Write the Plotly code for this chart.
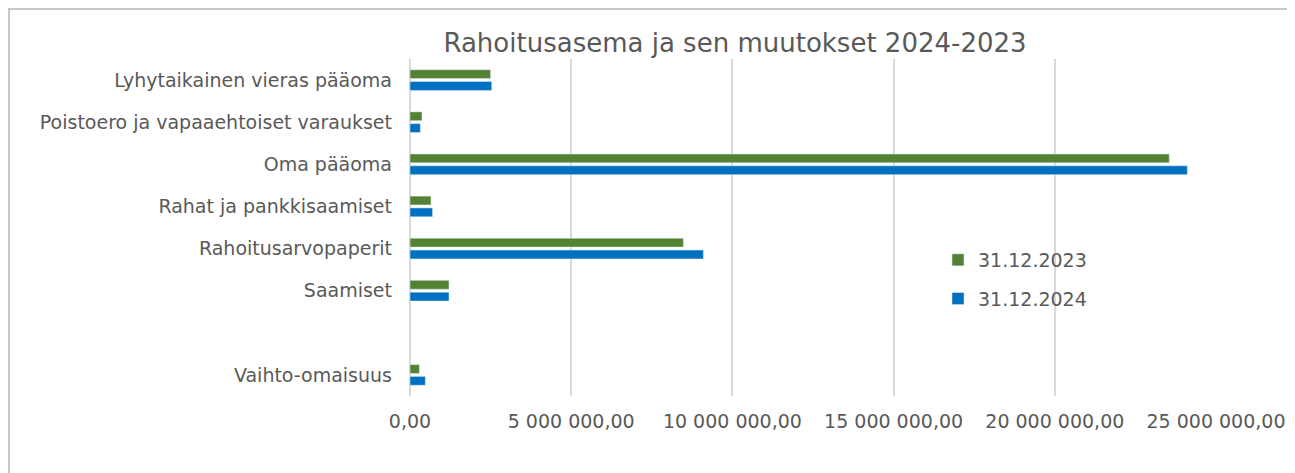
import plotly.graph_objects as go

categories = [
    "Vaihto-omaisuus",
    " ",
    "Saamiset",
    "Rahoitusarvopaperit",
    "Rahat ja pankkisaamiset",
    "Oma pääoma",
    "Poistoero ja vapaaehtoiset varaukset",
    "Lyhytaikainen vieras pääoma",
]
values_2023 = [290000, None, 1210000, 8480000, 650000, 23550000, 372000, 2500000]
values_2024 = [475000, None, 1210000, 9100000, 700000, 24110000, 320000, 2535000]
x_ticks = [0, 5000000, 10000000, 15000000, 20000000, 25000000]

GREEN = "#548235"
BLUE = "#0070C0"
TXT = "#595959"
FONT = "DejaVu Sans, Arial, sans-serif"

# page body has an 8px margin: work in screen pixels and subtract it
OFF = 8
W, H = 1295 - OFF, 473 - OFF
PL, PR, PT, PB = 410, 1216, 59, 396          # plot area in screen px
ML, MR, MT, MB = PL - OFF, W - (PR - OFF), PT - OFF, H - (PB - OFF)
pw, ph = W - ML - MR, H - MT - MB


def fx(sx):
    return (sx - OFF - ML) / pw


def fy(sy):
    return 1 - (sy - OFF - MT) / ph


fig = go.Figure()
fig.add_trace(go.Bar(
    y=categories, x=values_2024, orientation="h", name="31.12.2024",
    marker=dict(color=BLUE), legendgroup="b", legendrank=2,
))
fig.add_trace(go.Bar(
    y=categories, x=values_2023, orientation="h", name="31.12.2023",
    marker=dict(color=GREEN), legendgroup="a", legendrank=1,
))

fig.add_shape(
    type="rect", xref="paper", yref="paper",
    x0=fx(OFF + 1), x1=fx(1293), y0=fy(480), y1=fy(OFF + 1),
    line=dict(color="#C8C8C8", width=2), fillcolor="rgba(0,0,0,0)", layer="below",
)

fig.update_layout(
    width=W, height=H,
    margin=dict(l=ML, r=MR, t=MT, b=MB, autoexpand=False),
    paper_bgcolor="white", plot_bgcolor="white",
    barmode="group", bargap=0.44, bargroupgap=0.25,
    separators=", ",
    font=dict(family=FONT, color=TXT, size=19),
    title=dict(
        text="Rahoitusasema ja sen muutokset 2024-2023",
        x=(735 - OFF) / W, xanchor="center", y=1 - (43 - OFF) / H, yanchor="middle",
        font=dict(size=26, color=TXT, family=FONT),
    ),
    xaxis=dict(
        range=[0, 25000000], tickvals=x_ticks, tickformat=",.2f",
        showgrid=True, gridcolor="#D9D9D9", gridwidth=1.5,
        zeroline=True, zerolinecolor="#D9D9D9", zerolinewidth=1.5,
        showline=False, ticks="", tickfont=dict(size=19, color=TXT),
        ticklabelstandoff=12,
        fixedrange=True,
    ),
    yaxis=dict(
        categoryorder="array", categoryarray=categories,
        showgrid=False, zeroline=False, showline=False, ticks="",
        tickfont=dict(size=19, color=TXT), ticklabelstandoff=17,
        fixedrange=True,
    ),
    legend=dict(
        x=fx(938), y=fy(241), xanchor="left", yanchor="top",
        traceorder="grouped", tracegroupgap=11,
        font=dict(size=19, color=TXT), bgcolor="rgba(0,0,0,0)",
        itemwidth=30,
    ),
    showlegend=True,
)

fig.write_html("out.html")
